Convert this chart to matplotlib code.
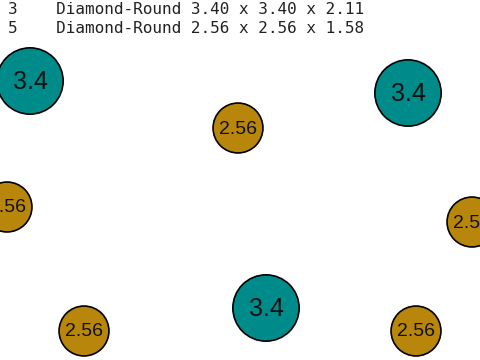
import matplotlib
matplotlib.use("Agg")
import matplotlib.pyplot as plt
from matplotlib.patches import Circle

# Legend text lines
legend_ids = ["3", "5"]
legend_desc = ["Diamond-Round 3.40 x 3.40 x 2.11", "Diamond-Round 2.56 x 2.56 x 1.58"]

# Stones: position (pixel-like layout coords) and size
stone_x = [30, 408, 238, 7, 472, 266, 84, 416]
stone_y = [81, 93, 128, 207, 222, 308, 331, 331]
stone_size = [3.4, 3.4, 2.56, 2.56, 2.56, 3.4, 2.56, 2.56]

colors = {3.4: "#008B8B", 2.56: "#B8860B"}
radius_scale = 9.75

fig = plt.figure(figsize=(4.8, 3.6), dpi=100)
ax = fig.add_axes([0, 0, 1, 1])
ax.set_xlim(0, 480)
ax.set_ylim(360, 0)
ax.set_aspect("equal")
ax.axis("off")

for x, y, s in zip(stone_x, stone_y, stone_size):
    c = Circle((x, y), s * radius_scale, facecolor=colors[s], edgecolor="black", linewidth=1.2)
    ax.add_patch(c)
    label = f"{s:g}"
    fs = 18 if s == 3.4 else 14
    ax.text(x, y + 1, label, ha="center", va="center", fontsize=fs,
            family="Liberation Sans", color="#111111")

for i, (lid, desc) in enumerate(zip(legend_ids, legend_desc)):
    ax.text(8, 14 + i * 19, f"{lid}    {desc}", ha="left", va="baseline",
            fontsize=11.5, family="DejaVu Sans Mono", color="#222222")

fig.savefig("out.png", dpi=100)
